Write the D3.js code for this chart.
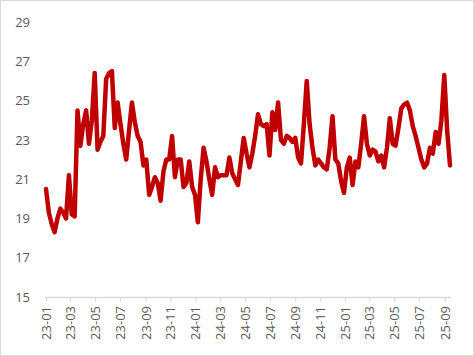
<!DOCTYPE html>
<html>
<head>
<meta charset="utf-8">
<script src="https://cdn.jsdelivr.net/npm/d3@7"></script>
<style>
  body { margin: 0; background: #fff; }
  svg { display: block; }
  text { font-family: "Open Sans", "Noto Sans", sans-serif; fill: #595959; }
</style>
</head>
<body>
<div id="chart"></div>
<script>
// weekly series, first week starting 2023-01-01
var startDate = new Date(2023, 0, 1);
var values = [
  20.5, 19.3, 18.7, 18.3, 19.0, 19.5, 19.3, 19.0, 21.2, 19.2,
  19.1, 24.5, 22.7, 23.8, 24.5, 22.8, 24.0, 26.4, 22.5, 22.9,
  23.2, 26.1, 26.4, 26.5, 23.6, 24.9, 23.8, 22.8, 22.0, 23.5,
  24.9, 23.9, 23.2, 22.9, 21.7, 22.0, 20.2, 20.6, 21.1, 20.8,
  19.9, 21.4, 22.0, 22.0, 23.2, 21.1, 22.0, 22.0, 20.6, 20.8,
  21.9, 20.6, 20.2, 18.8, 21.0, 22.6, 21.9, 21.0, 20.2, 21.6,
  21.1, 21.2, 21.2, 21.2, 22.1, 21.3, 21.0, 20.7, 21.9, 23.1,
  22.3, 21.6, 22.3, 23.2, 24.3, 23.8, 23.7, 23.8, 22.2, 24.4,
  23.5, 24.9, 23.0, 22.8, 23.2, 23.1, 22.9, 23.1, 22.1, 21.8,
  23.8, 26.0, 23.8, 22.6, 21.7, 22.0, 21.8, 21.6, 21.5, 22.6,
  24.2, 22.0, 21.8, 20.9, 20.3, 21.6, 22.1, 20.7, 21.9, 21.6,
  22.8, 24.2, 22.8, 22.2, 22.5, 22.4, 21.9, 22.2, 21.6, 22.6,
  24.1, 22.8, 22.7, 23.6, 24.6, 24.8, 24.9, 24.5, 23.7, 23.2,
  22.6, 22.0, 21.6, 21.8, 22.6, 22.3, 23.4, 22.8, 24.0, 26.3,
  23.5, 21.7
];
var yTicks = [15, 17, 19, 21, 23, 25, 27, 29];

var donnees = values.map(function(v, i) {
  return { date: d3.timeDay.offset(startDate, i * 7), v: v };
});

var totalWidth = 474, totalHeight = 356,
    margin = {top: 22, right: 24, bottom: 59, left: 46},
    width = totalWidth - margin.left - margin.right,
    height = totalHeight - margin.top - margin.bottom;

var svg = d3.select("#chart").append("svg")
  .attr("width", totalWidth)
  .attr("height", totalHeight);

svg.append("rect")
  .attr("x", 0.5).attr("y", 0.5)
  .attr("width", totalWidth - 1).attr("height", totalHeight - 1)
  .attr("fill", "#fff")
  .attr("stroke", "#d9d9d9");

var g = svg.append("g")
  .attr("transform", "translate(" + margin.left + "," + margin.top + ")");

var x = d3.scaleTime()
  .domain(d3.extent(donnees, function(d) { return d.date; }))
  .range([0, width]);
var y = d3.scaleLinear()
  .domain([15, 29])
  .range([height, 0]);

// y labels, no axis line
var yAxis = g.append("g")
  .call(d3.axisLeft(y).tickValues(yTicks).tickSize(0).tickPadding(16));
yAxis.select(".domain").remove();
yAxis.selectAll("text")
  .style("font-size", "13px")
  .style("fill", "#595959");

// x axis every 2 months
var xAxis = g.append("g")
  .attr("transform", "translate(0," + height + ")")
  .call(d3.axisBottom(x)
    .ticks(d3.timeMonth.every(2))
    .tickFormat(d3.timeFormat("%y-%m"))
    .tickSize(5)
    .tickSizeOuter(0));
xAxis.select(".domain").attr("stroke", "#d9d9d9").attr("stroke-width", 1.5)
  .attr("d", "M-1,0.5H" + (width + 1));
xAxis.selectAll(".tick line").attr("stroke", "#d9d9d9");
xAxis.selectAll(".tick text")
  .style("font-size", "13px")
  .style("fill", "#595959")
  .attr("text-anchor", "end")
  .attr("transform", "rotate(-90)")
  .attr("x", -9)
  .attr("y", 0)
  .attr("dy", "0.35em");

var ligne = d3.line()
  .x(function(d) { return x(d.date); })
  .y(function(d) { return y(d.v); });
g.append("path")
  .datum(donnees)
  .attr("fill", "none")
  .attr("stroke", "#c00000")
  .attr("stroke-width", 4.5)
  .attr("stroke-linejoin", "round")
  .attr("stroke-linecap", "round")
  .attr("d", ligne);
</script>
</body>
</html>
